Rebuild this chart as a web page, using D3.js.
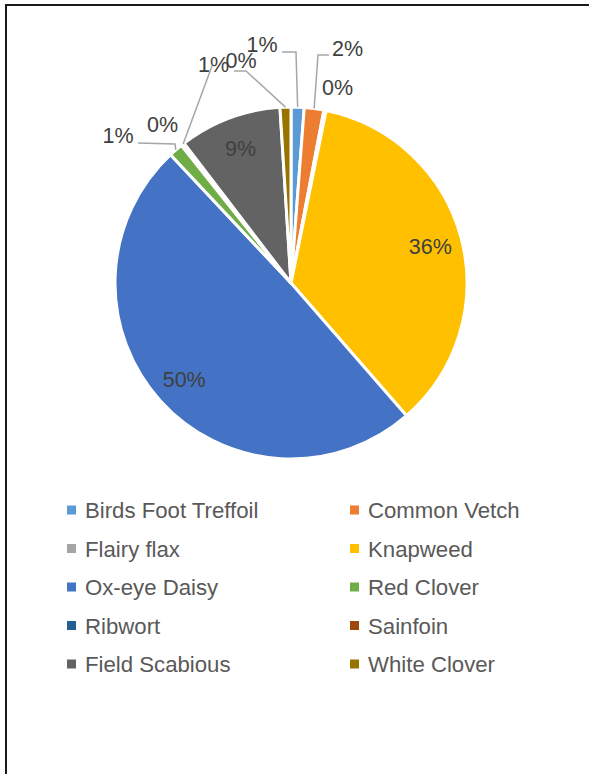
<!DOCTYPE html>
<html>
<head>
<meta charset="utf-8">
<script src="https://cdn.jsdelivr.net/npm/d3@7"></script>
<style>
  body { margin: 0; background: #fff; }
  svg { display: block; font-family: "Liberation Sans", Arial, sans-serif; }
</style>
</head>
<body>
<svg id="chart" width="589" height="774"></svg>
<script>
// data, in pie order (clockwise from 12 o'clock)
const species = ['Birds Foot Treffoil', 'Common Vetch', 'Flairy flax', 'Knapweed', 'Ox-eye Daisy',
  'Red Clover', 'Ribwort', 'Sainfoin', 'Field Scabious', 'White Clover'];
const shares = [1.2, 1.8, 0.2, 35.4, 49.4, 1.3, 0.1, 0.2, 9.4, 1.0];
const shareLabels = ['1%', '2%', '0%', '36%', '50%', '1%', '0%', '1%', '9%', '0%'];
const colors = ['#5B9BD5', '#ED7D31', '#A5A5A5', '#FFC000', '#4472C4',
  '#70AD47', '#255E91', '#9E480E', '#636363', '#997300'];

// label placement (relative to pie centre): text pos + leader elbows
const outside = {
  'Birds Foot Treffoil': { pos: [-29, -231], line: [[5, -231], [-9, -231]] },
  'Common Vetch': { pos: [56.5, -227], line: [[27, -228], [38, -228]] },
  'Flairy flax': { pos: [46.5, -188], line: null },
  'Red Clover': { pos: [-173, -140], line: [[-116, -139], [-153, -140]] },
  'Ribwort': { pos: [-128.5, -151], line: null },
  'Sainfoin': { pos: [-77.5, -211], line: [[-79, -217]] },
  'White Clover': { pos: [-50, -215], line: [[-45, -212], [-57, -212]] }
};

const svg = d3.select('#chart');
const cx = 291, cy = 283, R = 176;

// frame
svg.append('rect').attr('x', 6).attr('y', 5).attr('width', 700).attr('height', 900)
  .attr('fill', 'none').attr('stroke', '#1a1a1a').attr('stroke-width', 2);

const data = species.map((s, i) => ({ name: s, value: shares[i], label: shareLabels[i], color: colors[i] }));
const pie = d3.pie().value(d => d.value).sort(null);
const arcs = pie(data);
const arc = d3.arc().innerRadius(0).outerRadius(R);
const edge = d3.arc().innerRadius(R).outerRadius(R);
const inner = d3.arc().innerRadius(144).outerRadius(144);

const g = svg.append('g').attr('transform', `translate(${cx},${cy})`);

g.selectAll('path.slice').data(arcs).enter().append('path')
  .attr('class', 'slice')
  .attr('d', arc)
  .attr('fill', d => d.data.color)
  .attr('stroke', '#fff')
  .attr('stroke-width', 3)
  .attr('stroke-linejoin', 'round');

// leader lines
const lineGen = d3.line();
arcs.forEach(d => {
  const o = outside[d.data.name];
  if (!o || !o.line) return;
  const pts = [edge.centroid(d), ...o.line];
  g.append('path').attr('d', lineGen(pts))
    .attr('fill', 'none').attr('stroke', '#a6a6a6').attr('stroke-width', 1.5);
});

// data labels
arcs.forEach(d => {
  const o = outside[d.data.name];
  const p = o ? o.pos : inner.centroid(d);
  g.append('text')
    .attr('x', p[0]).attr('y', p[1])
    .attr('dy', o ? 0 : '0.35em')
    .attr('text-anchor', 'middle')
    .attr('font-size', 21.5)
    .attr('fill', '#404040')
    .text(d.data.label);
});

// legend, two columns
const colX = [67, 350];
const rowY = d3.scalePoint().domain(d3.range(5)).range([510, 664]);
const leg = svg.append('g').selectAll('g').data(data).enter().append('g')
  .attr('transform', (d, i) => `translate(${colX[i % 2]},${rowY(Math.floor(i / 2))})`);
leg.append('rect').attr('x', 0).attr('y', -4.5).attr('width', 9).attr('height', 9)
  .attr('fill', d => d.color);
leg.append('text').attr('x', 18).attr('dy', '0.36em')
  .attr('font-size', 22.2).attr('fill', '#595959')
  .text(d => d.name);
</script>
</body>
</html>
